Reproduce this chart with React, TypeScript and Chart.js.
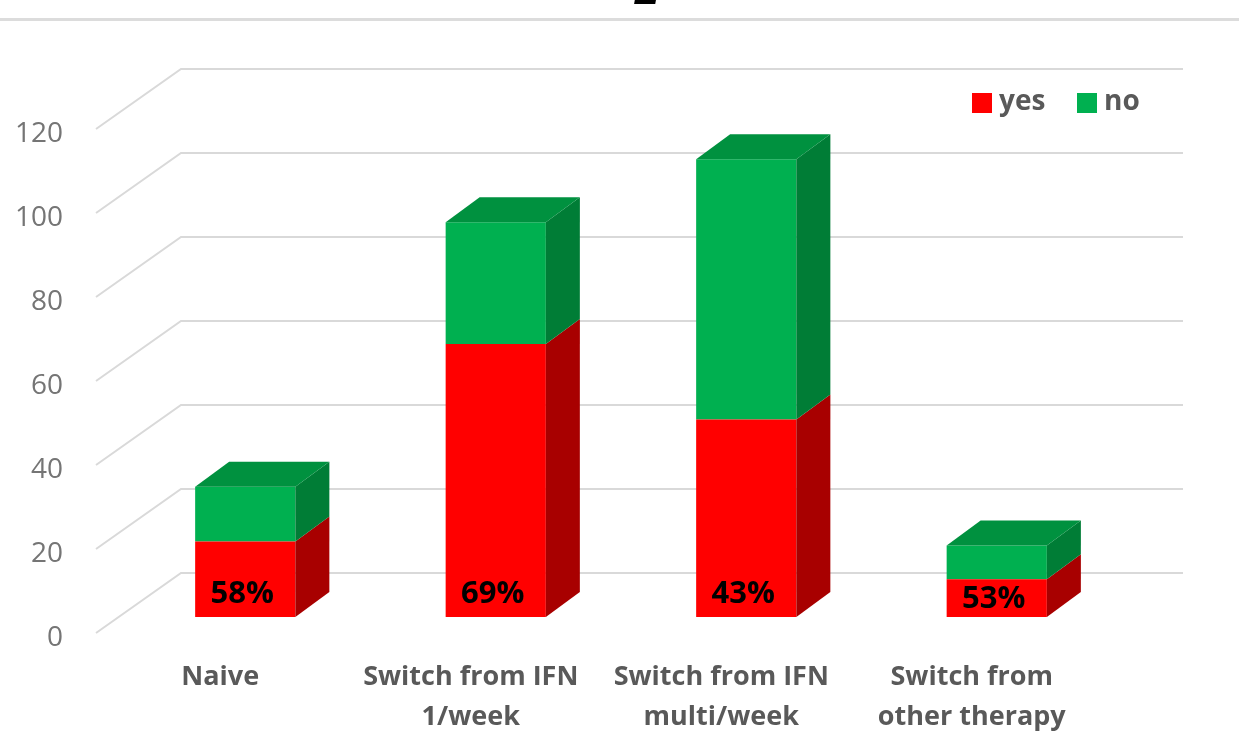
import React, { useEffect, useRef } from 'react';
import { Chart, registerables } from 'chart.js';

Chart.register(...registerables);

// ---- data ----
const categories: string[][] = [
  ['Naive'],
  ['Switch from IFN', '1/week'],
  ['Switch from IFN', 'multi/week'],
  ['Switch from', 'other therapy'],
];
const seriesNames = ['yes', 'no'];
const yesValues = [18, 65, 47, 9];
const noValues = [13, 29, 62, 8];
const yesPercentLabels = ['58%', '69%', '43%', '53%'];
const yTicks = [0, 20, 40, 60, 80, 100, 120];

// ---- styling ----
const FRONT_COLORS = ['#FF0000', '#00B050'];
const SIDE_COLORS = ['#A80000', '#007D36'];
const TOP_COLORS = ['#C00000', '#00913F'];
const FONT = '"Open Sans", "Noto Sans", sans-serif';

// 3D offsets (pixels), relative to the bars' front plane
const BAR_DX = 34;
const BAR_DY = -25;
const WALL_DX = 61;
const WALL_DY = -44;
const FRONT_DX = -24;
const FRONT_DY = 16;

const pseudo3d = {
  id: 'pseudo3d',
  beforeDraw(chart: any) {
    const ctx = chart.ctx;
    ctx.save();
    ctx.fillStyle = '#dcdcdc';
    ctx.fillRect(0, 18, chart.width, 3);
    ctx.fillStyle = '#000000';
    ctx.font = 'italic bold 44px "Liberation Sans", sans-serif';
    ctx.textAlign = 'center';
    ctx.textBaseline = 'alphabetic';
    ctx.fillText('2', 647, 4);
    ctx.restore();
  },
  beforeDatasetsDraw(chart: any) {
    const { ctx, chartArea } = chart;
    const y = chart.scales.y;
    ctx.save();
    ctx.strokeStyle = '#d9d9d9';
    ctx.lineWidth = 2;
    y.ticks.forEach((t: any) => {
      const py = y.getPixelForValue(t.value);
      ctx.beginPath();
      ctx.moveTo(chartArea.left + FRONT_DX, py + FRONT_DY);
      ctx.lineTo(chartArea.left + WALL_DX, py + WALL_DY);
      ctx.lineTo(chartArea.right + WALL_DX, py + WALL_DY);
      ctx.stroke();
    });
    ctx.restore();
  },
  afterDatasetsDraw(chart: any) {
    const ctx = chart.ctx;
    const n = chart.data.datasets.length;
    ctx.save();
    chart.data.datasets.forEach((_ds: any, di: number) => {
      const meta = chart.getDatasetMeta(di);
      meta.data.forEach((bar: any) => {
        const { x, y, base, width } = bar.getProps(['x', 'y', 'base', 'width'], true);
        const l = x - width / 2;
        const r = x + width / 2;
        ctx.fillStyle = SIDE_COLORS[di];
        ctx.beginPath();
        ctx.moveTo(r, y);
        ctx.lineTo(r + BAR_DX, y + BAR_DY);
        ctx.lineTo(r + BAR_DX, base + BAR_DY);
        ctx.lineTo(r, base);
        ctx.closePath();
        ctx.fill();
        if (di === n - 1) {
          ctx.fillStyle = TOP_COLORS[di];
          ctx.beginPath();
          ctx.moveTo(l, y);
          ctx.lineTo(l + BAR_DX, y + BAR_DY);
          ctx.lineTo(r + BAR_DX, y + BAR_DY);
          ctx.lineTo(r, y);
          ctx.closePath();
          ctx.fill();
        }
      });
    });
    const meta0 = chart.getDatasetMeta(0);
    ctx.fillStyle = '#000000';
    ctx.font = `bold 31px ${FONT}`;
    ctx.textAlign = 'center';
    ctx.textBaseline = 'middle';
    meta0.data.forEach((bar: any, i: number) => {
      const { x, y, base } = bar.getProps(['x', 'y', 'base'], true);
      const ty = Math.max(base - 23, (y + base) / 2 + 1);
      ctx.fillText(yesPercentLabels[i], x - 3, ty);
    });
    ctx.restore();
  },
  afterDraw(chart: any) {
    const ctx = chart.ctx;
    ctx.save();
    ctx.font = `bold 28px ${FONT}`;
    ctx.textBaseline = 'middle';
    ctx.textAlign = 'left';
    const positions = [972, 1077];
    chart.data.datasets.forEach((ds: any, i: number) => {
      const bx = positions[i];
      ctx.fillStyle = ds.backgroundColor;
      ctx.fillRect(bx, 93, 20, 20);
      ctx.fillStyle = '#595959';
      ctx.fillText(ds.label, bx + 27, 102);
    });
    ctx.restore();
  },
};

export default function App() {
  const canvasRef = useRef<HTMLCanvasElement | null>(null);

  useEffect(() => {
    if (!canvasRef.current) return;
    const chart = new Chart(canvasRef.current, {
      type: 'bar',
      data: {
        labels: categories as any,
        datasets: [
          {
            label: seriesNames[0],
            data: yesValues,
            backgroundColor: FRONT_COLORS[0],
            borderWidth: 0,
            barPercentage: 0.4,
            categoryPercentage: 1,
          },
          {
            label: seriesNames[1],
            data: noValues,
            backgroundColor: FRONT_COLORS[1],
            borderWidth: 0,
            barPercentage: 0.4,
            categoryPercentage: 1,
          },
        ],
      },
      options: {
        responsive: true,
        maintainAspectRatio: false,
        animation: false,
        events: [],
        layout: { padding: { top: 113, right: 117, left: 0, bottom: 0 } },
        plugins: {
          legend: { display: false },
          tooltip: { enabled: false },
          title: { display: false },
        },
        scales: {
          x: {
            stacked: true,
            grid: { display: false, drawTicks: false },
            border: { display: false },
            ticks: {
              color: '#595959',
              font: { family: FONT, size: 27, weight: 'bold', lineHeight: 40 / 27 },
              padding: 40,
              labelOffset: -25,
              maxRotation: 0,
              minRotation: 0,
              autoSkip: false,
            },
            afterFit: (s: any) => {
              s.height = 117;
            },
          },
          y: {
            stacked: true,
            min: 0,
            max: 120,
            grid: { display: false, drawTicks: false },
            border: { display: false },
            ticks: {
              color: '#757575',
              font: { family: FONT, size: 28 },
              padding: 57,
              labelOffset: 21,
            },
            afterBuildTicks: (s: any) => {
              s.ticks = yTicks.map((v) => ({ value: v }));
            },
            afterFit: (s: any) => {
              s.width = 120;
            },
          },
        },
      },
      plugins: [pseudo3d],
    } as any);
    return () => chart.destroy();
  }, []);

  return (
    <div style={{ position: 'fixed', left: 0, top: 0, width: 1239, height: 734, background: '#ffffff' }}>
      <canvas ref={canvasRef} style={{ display: 'block' }} />
    </div>
  );
}
